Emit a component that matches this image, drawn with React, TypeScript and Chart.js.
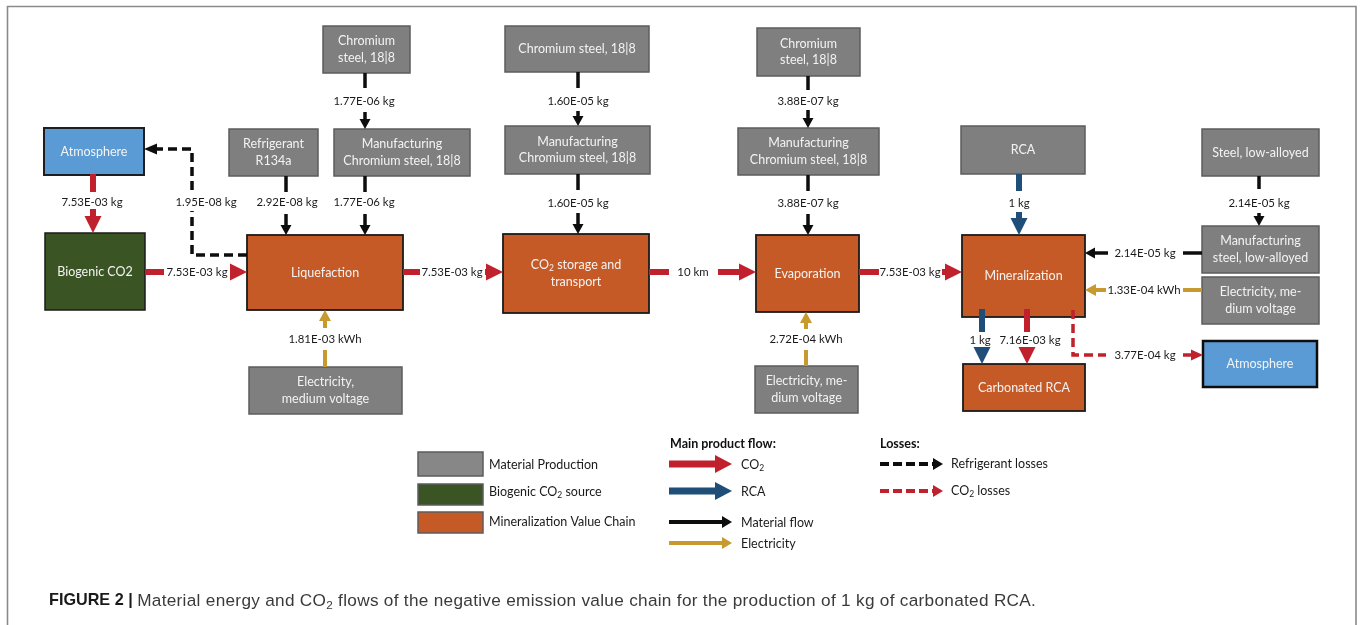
import React, { useEffect, useRef } from "react";
import { Chart, registerables } from "chart.js";

Chart.register(...registerables);

const W = 1360;
const H = 625;

// ---------- Nodes (process boxes) ----------
const NODE_IDS = [
  "chrom1", "atm1", "refr", "manuf1", "bio", "liq", "elec1",
  "chrom2", "manuf2", "co2", "chrom3", "manuf3", "evap", "elec2",
  "rca", "steel", "msteel", "elec3", "miner", "carb", "atm2",
];
const NODE_TEXT = [
  "Chromium\nsteel, 18|8",
  "Atmosphere",
  "Refrigerant\nR134a",
  "Manufacturing\nChromium steel, 18|8",
  "Biogenic CO2",
  "Liquefaction",
  "Electricity,\nmedium voltage",
  "Chromium steel, 18|8",
  "Manufacturing\nChromium steel, 18|8",
  "CO_{2} storage and\ntransport",
  "Chromium\nsteel, 18|8",
  "Manufacturing\nChromium steel, 18|8",
  "Evaporation",
  "Electricity, me-\ndium voltage",
  "RCA",
  "Steel, low-alloyed",
  "Manufacturing\nsteel, low-alloyed",
  "Electricity, me-\ndium voltage",
  "Mineralization",
  "Carbonated RCA",
  "Atmosphere",
];
const NODE_KIND = [
  "material", "atmosphere", "material", "material", "biogenic", "chain", "material",
  "material", "material", "chain", "material", "material", "chain", "material",
  "material", "material", "material", "material", "chain", "chain", "atmosphere2",
];
// layout: [x1, y1, x2, y2] in diagram units
const NODE_BOX = [
  [323, 26, 410, 73], [44, 128, 144, 175], [229, 129, 318, 176], [334, 129, 470, 176],
  [45, 233, 145, 310], [247, 235, 403, 310], [249, 367, 402, 414],
  [505, 26, 649, 72], [505, 126, 650, 174], [503, 234, 649, 313],
  [757, 28, 860, 76], [738, 128, 879, 175], [756, 235, 859, 312], [755, 366, 858, 413],
  [961, 126, 1085, 174], [1202, 129, 1319, 176], [1202, 226, 1319, 273], [1202, 277, 1319, 324],
  [962, 235, 1085, 317], [963, 364, 1085, 411], [1203, 341, 1317, 387],
];

// ---------- Flows ----------
const FLOW_VALUES = [
  "7.53E-03 kg", "7.53E-03 kg", "7.53E-03 kg", "10 km", "7.53E-03 kg",
  "1.77E-06 kg", "1.77E-06 kg", "2.92E-08 kg", "1.95E-08 kg",
  "1.60E-05 kg", "1.60E-05 kg", "3.88E-07 kg", "3.88E-07 kg",
  "1.81E-03 kWh", "2.72E-04 kWh", "1 kg", "2.14E-05 kg", "2.14E-05 kg",
  "1.33E-04 kWh", "1 kg", "7.16E-03 kg", "3.77E-04 kg",
];
const FLOW_KIND = [
  "co2", "co2", "co2", "co2", "co2",
  "material", "material", "material", "refrigerantLoss",
  "material", "material", "material", "material",
  "electricity", "electricity", "rca", "material", "material",
  "electricity", "rca", "co2", "co2Loss",
];
// layout: polyline before the label gap, polyline after the gap (ends at arrow tip), label centre
const FLOW_TAIL = [
  [[93, 174], [93, 192]], [[145, 272], [164, 272]], [[403, 272], [420, 272]], [[649, 272], [669, 272]], [[859, 272], [879, 272]],
  [[365, 73], [365, 88]], [[365, 176], [365, 192]], [[286, 176], [286, 192]], [[247, 255], [192, 255], [192, 211]],
  [[578, 72], [578, 88]], [[578, 174], [578, 190]], [[808, 76], [808, 90]], [[808, 175], [808, 191]],
  [[325, 367], [325, 350]], [[806, 366], [806, 350]], [[1019, 174], [1019, 191]], [[1259, 176], [1259, 189]], [[1202, 253], [1183, 253]],
  [[1202, 290], [1183, 290]], [[982, 309], [982, 332]], [[1027, 309], [1027, 332]], [[1073, 310], [1073, 355], [1106, 355]],
];
const FLOW_HEAD = [
  [[93, 209], [93, 233]], [[230, 272], [247, 272]], [[485, 272], [503, 272]], [[718, 272], [756, 272]], [[942, 272], [962, 272]],
  [[365, 112], [365, 129]], [[365, 214], [365, 235]], [[286, 214], [286, 235]], [[192, 190], [192, 149], [144, 149]],
  [[578, 111], [578, 126]], [[578, 213], [578, 234]], [[808, 110], [808, 128]], [[808, 214], [808, 235]],
  [[325, 328], [325, 310]], [[806, 329], [806, 312]], [[1019, 212], [1019, 235]], [[1259, 213], [1259, 226]], [[1108, 253], [1085, 253]],
  [[1106, 290], [1085, 290]], [[982, 347], [982, 364]], [[1027, 347], [1027, 364]], [[1183, 355], [1203, 355]],
];
const FLOW_LABEL_AT = [
  [92, 202], [197, 272], [452, 272], [693, 272], [910, 272],
  [364, 101], [364, 202], [287, 202], [206, 202],
  [578, 101], [578, 203], [808, 101], [808, 203],
  [325, 339], [806, 339], [1019, 203], [1259, 203], [1145, 253],
  [1144, 290], [980, 340], [1030, 340], [1145, 355],
];

// ---------- Legend ----------
const LEGEND_BOX_LABELS = ["Material Production", "Biogenic CO_{2} source", "Mineralization Value Chain"];
const LEGEND_BOX_KIND = ["legendGray", "biogenic", "chain"];
const LEGEND_FLOW_TITLE = "Main product flow:";
const LEGEND_FLOW_LABELS = ["CO_{2}", "RCA", "Material flow", "Electricity"];
const LEGEND_FLOW_KIND = ["co2Legend", "rcaLegend", "materialLegend", "electricityLegend"];
const LEGEND_LOSS_TITLE = "Losses:";
const LEGEND_LOSS_LABELS = ["Refrigerant losses", "CO_{2} losses"];
const LEGEND_LOSS_KIND = ["refrigerantLossLegend", "co2LossLegend"];

const CAPTION_BOLD = "FIGURE 2 | ";
const CAPTION_TEXT = "Material energy and CO_{2} flows of the negative emission value chain for the production of 1 kg of carbonated RCA.";

// ---------- Styles ----------
const RED = "#c0212c";
const BLUE = "#1f4e79";
const GOLD = "#c8992e";
const BLACK = "#0d0d0d";

const BOX_STYLE: Record<string, { fill: string; stroke: string; lw: number }> = {
  material: { fill: "#7f7f7f", stroke: "#5c5c5c", lw: 1.5 },
  legendGray: { fill: "#878787", stroke: "#5c5c5c", lw: 1.5 },
  atmosphere: { fill: "#5b9bd5", stroke: "#1e1e1e", lw: 2 },
  atmosphere2: { fill: "#5b9bd5", stroke: "#0d0d0d", lw: 2.5 },
  biogenic: { fill: "#3a5424", stroke: "#1a1a1a", lw: 1.5 },
  chain: { fill: "#c55a27", stroke: "#1a1a1a", lw: 1.8 },
};

const FLOW_STYLE: Record<string, { color: string; shaft: number; L: number; hw: number; dash?: number[] }> = {
  co2: { color: RED, shaft: 6, L: 17, hw: 8.5 },
  rca: { color: BLUE, shaft: 6, L: 17, hw: 8.5 },
  material: { color: BLACK, shaft: 3.5, L: 10, hw: 5.5 },
  electricity: { color: GOLD, shaft: 4, L: 11, hw: 6 },
  refrigerantLoss: { color: BLACK, shaft: 3.5, L: 13, hw: 5.5, dash: [9, 5] },
  co2Loss: { color: RED, shaft: 3.5, L: 12, hw: 5.5, dash: [9, 5] },
  co2Legend: { color: RED, shaft: 7, L: 17, hw: 9 },
  rcaLegend: { color: BLUE, shaft: 7, L: 17, hw: 9 },
  materialLegend: { color: BLACK, shaft: 4, L: 10, hw: 6 },
  electricityLegend: { color: GOLD, shaft: 4, L: 10, hw: 6 },
  refrigerantLossLegend: { color: BLACK, shaft: 4, L: 10, hw: 6, dash: [9, 4] },
  co2LossLegend: { color: RED, shaft: 4, L: 10, hw: 6, dash: [9, 4] },
};

const DIAG_FONT = "Lato, 'Open Sans', sans-serif";
const CAP_FONT = "'Liberation Sans', Arial, sans-serif";

type Seg = { t: string; sub: boolean };
function segs(s: string): Seg[] {
  const out: Seg[] = [];
  const re = /_\{([^}]*)\}/g;
  let last = 0;
  let m: RegExpExecArray | null;
  while ((m = re.exec(s))) {
    if (m.index > last) out.push({ t: s.slice(last, m.index), sub: false });
    out.push({ t: m[1], sub: true });
    last = re.lastIndex;
  }
  if (last < s.length) out.push({ t: s.slice(last), sub: false });
  return out;
}

function drawRich(
  ctx: CanvasRenderingContext2D, s: string, x: number, y: number, size: number,
  weight: string, family: string, color: string, align: "left" | "center" | "right",
  spacing = 0
) {
  const parts = segs(s);
  const c: any = ctx;
  c.letterSpacing = spacing + "px";
  const fontFor = (sub: boolean) => `${weight} ${sub ? size * 0.68 : size}px ${family}`;
  const widths = parts.map((p) => {
    ctx.font = fontFor(p.sub);
    return ctx.measureText(p.t).width;
  });
  const total = widths.reduce((a, b) => a + b, 0);
  let cx = align === "center" ? x - total / 2 : align === "right" ? x - total : x;
  ctx.fillStyle = color;
  ctx.textAlign = "left";
  ctx.textBaseline = "middle";
  parts.forEach((p, i) => {
    ctx.font = fontFor(p.sub);
    ctx.fillText(p.t, cx, p.sub ? y + size * 0.28 : y);
    cx += widths[i];
  });
  c.letterSpacing = "0px";
  return total;
}

function strokePoly(ctx: CanvasRenderingContext2D, pts: number[][]) {
  ctx.beginPath();
  ctx.moveTo(pts[0][0], pts[0][1]);
  for (let i = 1; i < pts.length; i++) ctx.lineTo(pts[i][0], pts[i][1]);
  ctx.stroke();
}

function drawArrow(ctx: CanvasRenderingContext2D, tail: number[][] | null, head: number[][], kind: string) {
  const st = FLOW_STYLE[kind];
  ctx.save();
  ctx.strokeStyle = st.color;
  ctx.fillStyle = st.color;
  ctx.lineWidth = st.shaft;
  ctx.lineCap = "butt";
  ctx.lineJoin = "miter";
  ctx.setLineDash(st.dash || []);
  if (tail) strokePoly(ctx, tail);
  const n = head.length;
  const [ex, ey] = head[n - 1];
  const [bx, by] = head[n - 2];
  const len = Math.hypot(ex - bx, ey - by) || 1;
  const ux = (ex - bx) / len;
  const uy = (ey - by) / len;
  const cut = Math.max(0, Math.min(len, st.L - 1));
  const shaftPts = head.slice(0, n - 1).concat([[ex - ux * cut, ey - uy * cut]]);
  if (len - cut > 0.5 || n > 2) strokePoly(ctx, shaftPts);
  ctx.setLineDash([]);
  const hx = ex - ux * st.L;
  const hy = ey - uy * st.L;
  ctx.beginPath();
  ctx.moveTo(ex, ey);
  ctx.lineTo(hx - uy * st.hw, hy + ux * st.hw);
  ctx.lineTo(hx + uy * st.hw, hy - ux * st.hw);
  ctx.closePath();
  ctx.fill();
  ctx.restore();
}

const diagramPlugin = {
  id: "flowDiagram",
  afterDatasetsDraw(chart: any) {
    const ctx: CanvasRenderingContext2D = chart.ctx;
    const sx = chart.scales.x;
    const sy = chart.scales.y;
    const px = (v: number) => sx.getPixelForValue(v);
    const py = (v: number) => sy.getPixelForValue(v);
    const P = (pts: number[][]) => pts.map(([a, b]) => [px(a), py(b)]);

    ctx.save();
    // frame
    ctx.strokeStyle = "#8a8a8a";
    ctx.lineWidth = 1.6;
    ctx.beginPath();
    ctx.moveTo(px(7.5), py(H + 5));
    ctx.lineTo(px(7.5), py(6.5));
    ctx.lineTo(px(1356), py(6.5));
    ctx.lineTo(px(1356), py(H + 5));
    ctx.stroke();

    // boxes
    NODE_IDS.forEach((_, i) => {
      const [x1, y1, x2, y2] = NODE_BOX[i];
      const st = BOX_STYLE[NODE_KIND[i]];
      const X1 = px(x1), Y1 = py(y1), X2 = px(x2), Y2 = py(y2);
      ctx.fillStyle = st.fill;
      ctx.fillRect(X1, Y1, X2 - X1, Y2 - Y1);
      ctx.strokeStyle = st.stroke;
      ctx.lineWidth = st.lw;
      ctx.strokeRect(X1, Y1, X2 - X1, Y2 - Y1);
      const lines = NODE_TEXT[i].split("\n");
      const lh = 16.5;
      const cx = (X1 + X2) / 2;
      const cy = (Y1 + Y2) / 2;
      lines.forEach((ln, k) => {
        const y = cy + (k - (lines.length - 1) / 2) * lh;
        drawRich(ctx, ln, cx, y, 12.5, "400", DIAG_FONT, "#f3f3f3", "center");
      });
    });

    // flows
    FLOW_VALUES.forEach((val, i) => {
      drawArrow(ctx, P(FLOW_TAIL[i]), P(FLOW_HEAD[i]), FLOW_KIND[i]);
      const [lx, ly] = FLOW_LABEL_AT[i];
      drawRich(ctx, val, px(lx), py(ly), 11.4, "400", DIAG_FONT, "#1a1a1a", "center");
    });

    // legend: boxes
    const swY = [[452, 476], [484, 505], [512, 533]];
    const swLabY = [465, 492, 522];
    LEGEND_BOX_LABELS.forEach((lab, i) => {
      const st = BOX_STYLE[LEGEND_BOX_KIND[i]];
      const X1 = px(418), X2 = px(483), Y1 = py(swY[i][0]), Y2 = py(swY[i][1]);
      ctx.fillStyle = st.fill;
      ctx.fillRect(X1, Y1, X2 - X1, Y2 - Y1);
      ctx.strokeStyle = "#5c5c5c";
      ctx.lineWidth = 1.5;
      ctx.strokeRect(X1, Y1, X2 - X1, Y2 - Y1);
      drawRich(ctx, lab, px(489), py(swLabY[i]), 12.5, "400", DIAG_FONT, "#1a1a1a", "left");
    });
    // legend: main product flows
    drawRich(ctx, LEGEND_FLOW_TITLE, px(670), py(444), 12.5, "700", DIAG_FONT, "#111", "left");
    const flY = [464, 491, 522, 543];
    LEGEND_FLOW_LABELS.forEach((lab, i) => {
      drawArrow(ctx, null, P([[669, flY[i]], [732, flY[i]]]), LEGEND_FLOW_KIND[i]);
      drawRich(ctx, lab, px(741), py(flY[i] + 1), 12.5, "400", DIAG_FONT, "#1a1a1a", "left");
    });
    // legend: losses
    drawRich(ctx, LEGEND_LOSS_TITLE, px(880), py(444), 12.5, "700", DIAG_FONT, "#111", "left");
    const lsY = [464, 491];
    LEGEND_LOSS_LABELS.forEach((lab, i) => {
      drawArrow(ctx, null, P([[880, lsY[i]], [943, lsY[i]]]), LEGEND_LOSS_KIND[i]);
      drawRich(ctx, lab, px(951), py(lsY[i]), 12.5, "400", DIAG_FONT, "#1a1a1a", "left");
    });

    // caption
    const wBold = drawRich(ctx, CAPTION_BOLD, px(49), py(601), 16.2, "700", CAP_FONT, "#1a1a1a", "left");
    drawRich(ctx, CAPTION_TEXT, px(49) + wBold, py(601), 17.2, "400", CAP_FONT, "#3a3a3a", "left", 0.3);
    ctx.restore();
  },
};

export default function App() {
  const ref = useRef<HTMLCanvasElement | null>(null);
  useEffect(() => {
    if (!ref.current) return;
    const chart = new Chart(ref.current, {
      type: "scatter",
      data: { datasets: [{ data: [], pointRadius: 0 }] },
      options: {
        responsive: false,
        animation: false,
        events: [],
        devicePixelRatio: 1,
        layout: { padding: 0 },
        plugins: { legend: { display: false }, tooltip: { enabled: false }, title: { display: false } },
        scales: {
          x: { type: "linear", min: 0, max: W, display: false },
          y: { type: "linear", min: 0, max: H, reverse: true, display: false },
        },
      },
      plugins: [diagramPlugin],
    } as any);
    let alive = true;
    const fonts = (document as any).fonts;
    if (fonts && fonts.load) {
      Promise.all([
        fonts.load("12px Lato"),
        fonts.load("bold 12px Lato"),
        fonts.load("16px 'Liberation Sans'"),
        fonts.load("bold 16px 'Liberation Sans'"),
      ]).then(() => {
        if (alive) chart.update();
      }).catch(() => {});
    }
    return () => {
      alive = false;
      chart.destroy();
    };
  }, []);
  return (
    <div style={{ position: "absolute", left: 0, top: 0, width: W, height: H, background: "#fff" }}>
      <canvas ref={ref} width={W} height={H} style={{ display: "block" }} />
    </div>
  );
}
